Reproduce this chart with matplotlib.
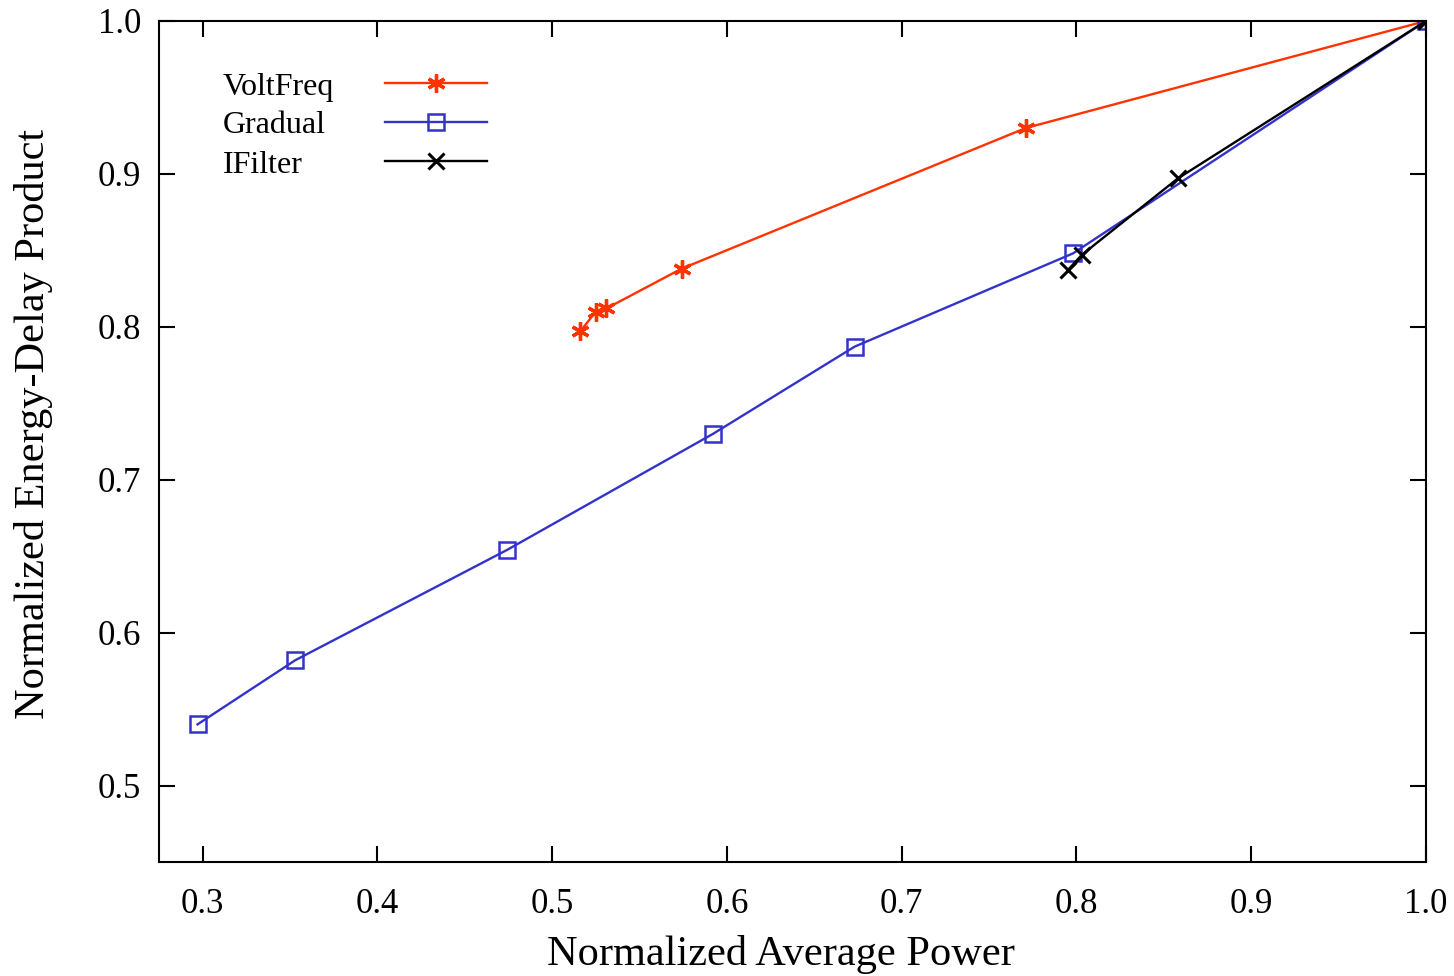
import matplotlib
matplotlib.use("Agg")
import matplotlib.pyplot as plt
from matplotlib.lines import Line2D

# values (normalized average power, normalized EDP)
voltfreq_x = [0.516, 0.525, 0.531, 0.574, 0.771, 1.0]
voltfreq_y = [0.797, 0.810, 0.812, 0.838, 0.930, 1.0]

gradual_x = [0.297, 0.353, 0.474, 0.592, 0.673, 0.798, 1.0]
gradual_y = [0.540, 0.582, 0.654, 0.730, 0.787, 0.848, 1.0]

ifilter_x = [0.795, 0.803, 0.858, 1.0]
ifilter_y = [0.837, 0.847, 0.897, 1.0]

series_names = ["VoltFreq", "Gradual", "IFilter"]
x_ticks = [0.3, 0.4, 0.5, 0.6, 0.7, 0.8, 0.9, 1.0]
y_ticks = [0.5, 0.6, 0.7, 0.8, 0.9, 1.0]

plt.rcParams['font.family'] = ['Liberation Serif', 'DejaVu Serif']

red = "#ff3300"
blue = "#3333cc"
black = "#000000"
asterisk = (6, 2, 0)
lw = 1.7

fig = plt.figure(figsize=(14.54, 9.76), dpi=100)
ax = fig.add_axes([0.1094, 0.1168, 0.8713, 0.8617])

ax.plot(voltfreq_x, voltfreq_y, color=red, lw=lw, marker=asterisk, ms=13, mew=2.4)
ax.plot(gradual_x, gradual_y, color=blue, lw=lw, marker="s", ms=11, mew=1.8,
        mfc="none")
ax.plot(ifilter_x, ifilter_y, color=black, lw=lw, marker="x", ms=12, mew=2.2)

ax.set_xlim(0.275, 1.0)
ax.set_ylim(0.45, 1.0)
ax.set_xticks(x_ticks)
ax.set_yticks(y_ticks)
ax.set_xticklabels([f"{v:.1f}" for v in x_ticks])
ax.set_yticklabels([f"{v:.1f}" for v in y_ticks])

ax.tick_params(direction="in", length=11.5, width=1.5, top=True, right=True,
               labelsize=25)
ax.tick_params(axis="x", pad=19)
ax.tick_params(axis="y", pad=13)
for s in ax.spines.values():
    s.set_linewidth(1.5)

ax.set_xlabel("Normalized Average Power", fontsize=30.5)
ax.set_ylabel("Normalized Energy-Delay Product", fontsize=30.5)
ax.xaxis.set_label_coords(0.491, -0.087)
ax.yaxis.set_label_coords(-0.0836, 0.521)

# gnuplot-like key: left-aligned labels, samples on the right
handles = [
    Line2D([], [], color=red, lw=lw, marker=asterisk, ms=13, mew=2.4),
    Line2D([], [], color=blue, lw=lw, marker="s", ms=11, mew=1.8, mfc="none"),
    Line2D([], [], color=black, lw=lw, marker="x", ms=12, mew=2.2),
]
ax.legend(handles, ["", "", ""], loc="upper left", bbox_to_anchor=(0.1784, 0.941),
          frameon=False, handlelength=2.83, handletextpad=0, borderpad=0,
          borderaxespad=0, labelspacing=0.16, prop={"size": 26})
for name, yb in zip(series_names, [0.912, 0.8668, 0.8193]):
    ax.text(0.0505, yb, name, transform=ax.transAxes, fontsize=23,
            ha="left", va="baseline")

fig.savefig("out.png", dpi=100)
